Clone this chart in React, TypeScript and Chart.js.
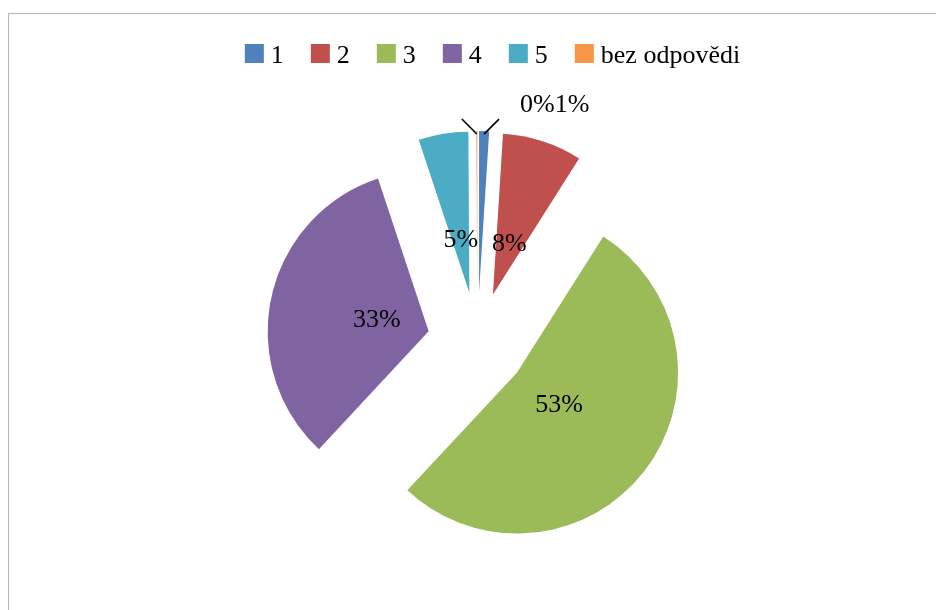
import React, { useEffect, useRef } from "react";
import { Chart, registerables, ArcElement } from "chart.js";

const categories: string[] = ["1", "2", "3", "4", "5", "bez odpovědi"];
const values: number[] = [1, 8, 53, 33, 5, 0.1];
const colors: string[] = ["#4F81BD", "#C0504D", "#9BBB59", "#8064A2", "#4BACC6", "#F79646"];

const FONT = '26px "Liberation Serif", "Times New Roman", serif';

// Arc that is exploded by the full `offset` without growing its radius (Excel-like).
class ExplodedArc extends (ArcElement as any) {
  static id = "explodedArc";
  draw(ctx: CanvasRenderingContext2D) {
    const self: any = this;
    const { x, y, startAngle, endAngle, outerRadius, circumference } = self;
    const o = self.options;
    if (!circumference || outerRadius <= 0) return;
    const mid = (startAngle + endAngle) / 2;
    const off = o.offset || 0;
    const cx = x + Math.cos(mid) * off;
    const cy = y + Math.sin(mid) * off;
    ctx.save();
    ctx.fillStyle = o.backgroundColor;
    ctx.beginPath();
    ctx.moveTo(cx, cy);
    ctx.arc(cx, cy, outerRadius, startAngle, endAngle);
    ctx.closePath();
    ctx.fill();
    ctx.restore();
  }
}

Chart.register(...registerables, ExplodedArc as any);
(Chart.defaults as any).datasets.pie.dataElementType = "explodedArc";

const legendPlugin = {
  id: "excelLegend",
  afterDraw(chart: any) {
    const ctx = chart.ctx as CanvasRenderingContext2D;
    const labels: string[] = chart.data.labels;
    const bg: string[] = chart.data.datasets[0].backgroundColor;
    ctx.save();
    ctx.font = FONT;
    ctx.textAlign = "left";
    ctx.textBaseline = "alphabetic";
    const box = 19;
    const gapText = 7;
    const gapItem = 27;
    const widths = labels.map((l) => ctx.measureText(l).width);
    const total =
      widths.reduce((a, w) => a + box + gapText + w, 0) + gapItem * (labels.length - 1);
    let x = 492.5 - total / 2;
    labels.forEach((l, i) => {
      ctx.fillStyle = bg[i];
      ctx.fillRect(x, 44, box, box);
      ctx.fillStyle = "#000";
      ctx.fillText(l, x + box + gapText, 63);
      x += box + gapText + widths[i] + gapItem;
    });
    ctx.restore();
  },
};

const labelPlugin = {
  id: "pieLabels",
  afterDatasetsDraw(chart: any) {
    const ctx = chart.ctx as CanvasRenderingContext2D;
    const meta = chart.getDatasetMeta(0);
    const data: number[] = chart.data.datasets[0].data;
    const total = data.reduce((a, b) => a + b, 0);
    ctx.save();
    ctx.font = FONT;
    ctx.fillStyle = "#000";
    const small: any[] = [];
    let cx = 0;
    let cy = 0;
    let outer = 0;
    meta.data.forEach((arc: any, i: number) => {
      const p = arc.getProps(["x", "y", "startAngle", "endAngle", "outerRadius"], true);
      const offset = arc.options.offset || 0;
      cx = p.x;
      cy = p.y;
      outer = p.outerRadius + offset;
      const mid = (p.startAngle + p.endAngle) / 2;
      const text = Math.round((data[i] / total) * 100) + "%";
      if (data[i] / total < 0.02) {
        let a = mid + Math.PI / 2;
        while (a > Math.PI) a -= 2 * Math.PI;
        small.push({ a, mid, x: p.x, y: p.y, r: p.outerRadius + offset - 3, text });
        return;
      }
      const r = offset + p.outerRadius * 0.33;
      ctx.textAlign = "center";
      ctx.textBaseline = "middle";
      ctx.fillText(text, p.x + Math.cos(mid) * r, p.y + Math.sin(mid) * r);
    });
    small.sort((s1, s2) => s1.a - s2.a);
    ctx.strokeStyle = "#000";
    ctx.lineWidth = 1.6;
    small.forEach((s) => {
      const sx = s.x + Math.cos(s.mid) * s.r;
      const sy = s.y + Math.sin(s.mid) * s.r;
      const dir = s.a < 0 ? -1 : 1;
      ctx.beginPath();
      ctx.moveTo(sx, sy);
      ctx.lineTo(sx + dir * 15, sy - 15);
      ctx.stroke();
    });
    ctx.textAlign = "left";
    ctx.textBaseline = "middle";
    let tx = cx + 42.5;
    const ty = cy - outer - 25.5;
    small.forEach((s) => {
      ctx.fillText(s.text, tx, ty);
      tx += ctx.measureText(s.text).width;
    });
    ctx.restore();
  },
};

export default function App() {
  const ref = useRef<HTMLCanvasElement | null>(null);
  useEffect(() => {
    if (!ref.current) return;
    const chart = new Chart(ref.current, {
      type: "pie",
      data: {
        labels: categories,
        datasets: [
          {
            data: values,
            backgroundColor: colors,
            borderWidth: 0,
            offset: 50,
            hoverOffset: 0,
          },
        ],
      },
      options: {
        animation: false,
        responsive: false,
        radius: 161,
        layout: { padding: { left: 19, right: 0, top: 74, bottom: 0 } },
        plugins: {
          legend: { display: false },
          tooltip: { enabled: false },
        },
      } as any,
      plugins: [labelPlugin, legendPlugin],
    });
    return () => chart.destroy();
  }, []);
  return (
    <div
      style={{
        position: "absolute",
        left: 0,
        top: 0,
        width: 936,
        height: 610,
        overflow: "hidden",
        background: "#fff",
      }}
    >
      <div
        style={{
          position: "absolute",
          left: 8,
          top: 13,
          width: 1000,
          height: 700,
          borderTop: "1px solid #b5b5b5",
          borderLeft: "1px solid #b5b5b5",
        }}
      />
      <canvas
        ref={ref}
        width={936}
        height={610}
        style={{ position: "absolute", left: 0, top: 0, width: 936, height: 610 }}
      />
    </div>
  );
}
